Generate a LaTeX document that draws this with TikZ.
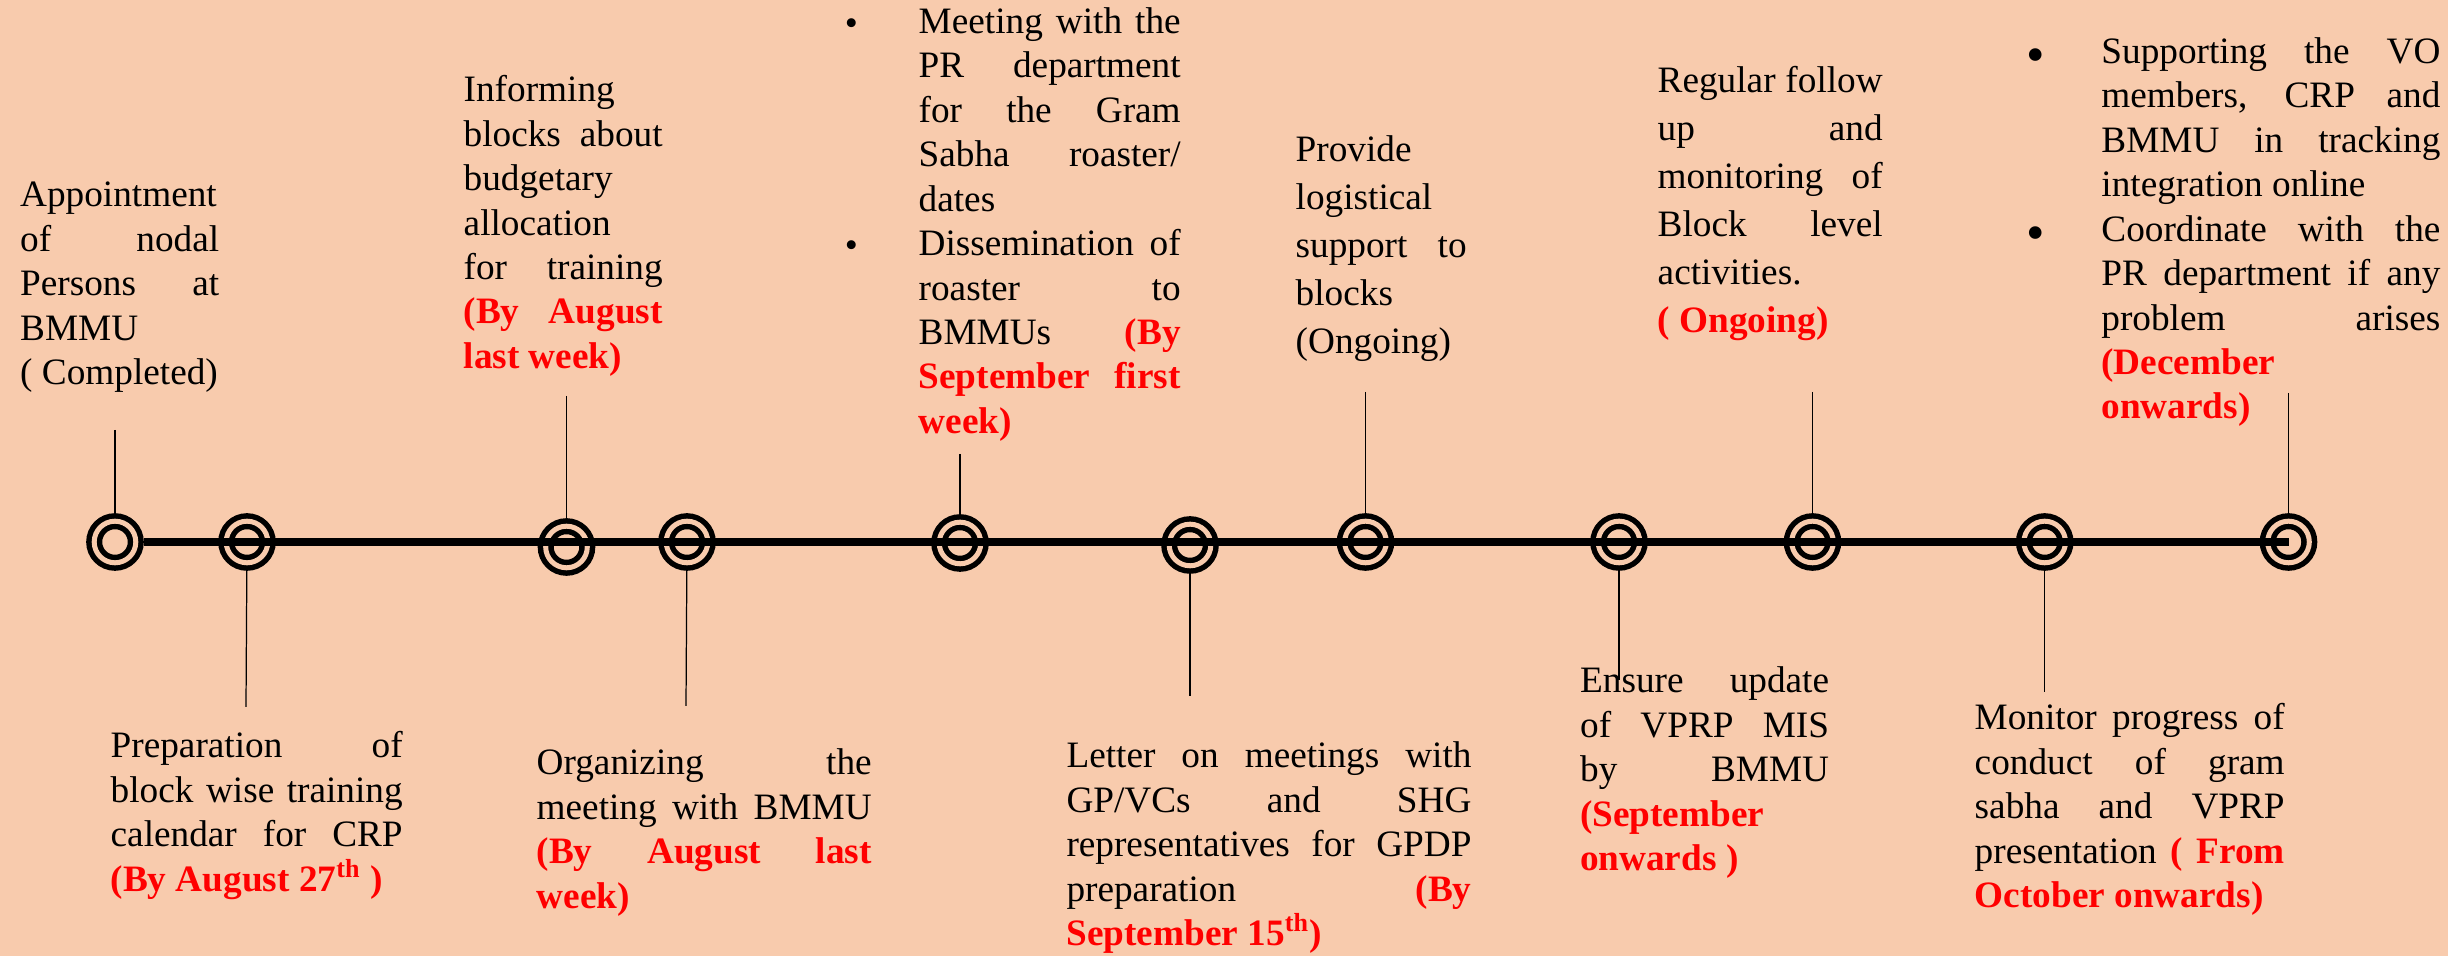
\documentclass[tikz,border=0pt]{standalone}
\usepackage{fontspec}
\setmainfont{Liberation Serif}
\definecolor{peach}{HTML}{F8CBAD}
\newcommand{\due}[1]{\textcolor{red}{\bfseries #1}}
\newcommand{\smallbul}{\leavevmode\llap{\raisebox{-0.02cm}{\textbullet}\hspace{0.608cm}}}
\newcommand{\bigbul}{\leavevmode\llap{\raisebox{-0.09cm}{\fontsize{15pt}{15pt}\selectfont\textbullet}\hspace{0.565cm}}}

\begin{document}
\begin{tikzpicture}
      \path[use as bounding box, fill=peach] (0,0) rectangle (24.48,9.56);
      \begin{scope}[every node/.style={anchor=base west,inner sep=0pt,align=justify,
          font=\fontsize{10.6pt}{12.65pt}\selectfont}]
        \node[text width=1.99cm] (appoint) at (0.195,7.49) {Appointment\\ of nodal\linebreak Persons at\linebreak BMMU\\ ( Completed)};
        \node[text width=1.99cm] (budget) at (4.63,8.543) {Informing\\ blocks about\linebreak budgetary\\ allocation\\ for training\linebreak \due{(By August}\linebreak \due{last week)}};
        \node[text width=2.62cm] (roaster) at (9.18,9.227) {\smallbul Meeting with the\linebreak PR department\linebreak for the Gram\linebreak Sabha roaster/\linebreak dates\par
          \smallbul Dissemination of\linebreak roaster to\linebreak BMMUs \due{(By}\linebreak \due{September first}\linebreak \due{week)}};
        \node[text width=1.71cm,font=\fontsize{10.6pt}{13.65pt}\selectfont] (logistic) at (12.95,7.943) {Provide\\ logistical\\ support to\linebreak blocks\\ (Ongoing)};
        \node[text width=2.25cm,font=\fontsize{10.6pt}{13.65pt}\selectfont] (followup) at (16.57,8.63) {Regular follow\linebreak up and\linebreak monitoring of\linebreak Block level\linebreak activities.\\ \due{( Ongoing)}};
        \node[text width=3.39cm] (support) at (21.007,8.927) {\bigbul Supporting the VO\linebreak members, CRP and\linebreak BMMU in tracking\linebreak integration online\par
          \bigbul Coordinate with the\linebreak PR department if any\linebreak problem arises\linebreak \due{(December}\\ \due{onwards)}};
        \node[text width=2.92cm] (calendar) at (1.10,1.98) {Preparation of\linebreak block wise training\linebreak calendar for CRP\linebreak \due{(By August 27\textsuperscript{th} )}};
        \node[text width=3.35cm] (organize) at (5.36,1.81) {Organizing the\linebreak meeting with BMMU\linebreak \due{(By August last}\linebreak \due{week)}};
        \node[text width=4.05cm] (letter) at (10.658,1.88) {Letter on meetings with\linebreak GP/VCs and SHG\linebreak representatives for GPDP\linebreak preparation \due{(By}\linebreak \due{September 15\textsuperscript{th})}};
        \node[text width=2.49cm] (mis) at (15.794,2.63) {Ensure update\linebreak of VPRP MIS\linebreak by BMMU\linebreak \due{(September}\\ \due{onwards )}};
        \node[text width=3.10cm] (progress) at (19.74,2.26) {Monitor progress of\linebreak conduct of gram\linebreak sabha and VPRP\linebreak presentation \due{( From}\linebreak \due{October onwards)}};
      \end{scope}
      \begin{scope}[every node/.style={circle,draw=black,fill=peach,line width=0.055cm,
          double=peach,double distance=0.05cm,minimum size=0.416cm,inner sep=0pt,outer sep=0.08cm}]
        \node (c1) at (1.15,4.14) {};
        \node (c2) at (2.47,4.14) {};
        \node (c3) at (5.665,4.09) {};
        \node (c4) at (6.87,4.14) {};
        \node (c5) at (9.60,4.13) {};
        \node (c6) at (11.90,4.11) {};
        \node (c7) at (13.655,4.14) {};
        \node (c8) at (16.19,4.14) {};
        \node (c9) at (18.125,4.14) {};
        \node (c10) at (20.447,4.14) {};
        \node (c11) at (22.885,4.14) {};
      \end{scope}
      \draw[line width=0.075cm] (c1) -- (c11.center);
      \coordinate (t1) at (1.15,5.26);
      \coordinate (t3) at (5.665,5.60);
      \coordinate (t5) at (9.60,5.02);
      \coordinate (t7) at (13.655,5.64);
      \coordinate (t9) at (18.125,5.64);
      \coordinate (t11) at (22.885,5.63);
      \coordinate (b2) at (2.46,2.49);
      \coordinate (b4) at (6.86,2.50);
      \coordinate (b6) at (11.90,2.60);
      \coordinate (b8) at (16.19,2.76);
      \coordinate (b10) at (20.447,2.64);
      \begin{scope}[every edge/.style={draw,line width=0.35pt}]
        \path (t1) edge (c1);
        \path (t3) edge (c3);
        \path (t5) edge (c5);
        \path (t7) edge (c7);
        \path (t9) edge (c9);
        \path (t11) edge (c11);
        \path (b2) edge (c2);
        \path (b4) edge (c4);
        \path (b6) edge (c6);
        \path (b8) edge (c8);
        \path (b10) edge (c10);
      \end{scope}
    \end{tikzpicture}
\end{document}
